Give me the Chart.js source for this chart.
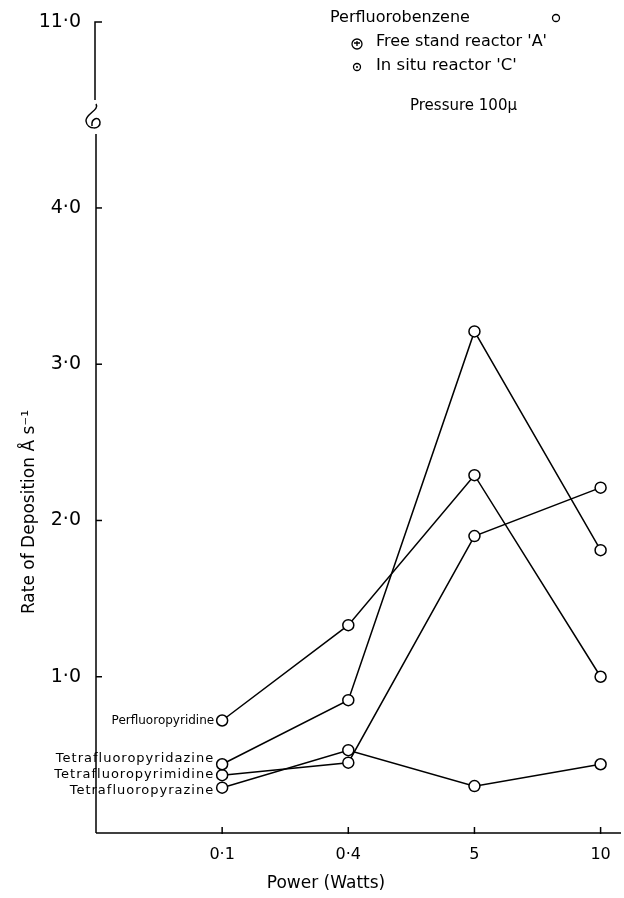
<!DOCTYPE html>
<html>
<head>
<meta charset="utf-8">
<script src="https://cdn.jsdelivr.net/npm/chart.js@4/dist/chart.umd.min.js"></script>
<style>
  body { margin: 0; background: #fff; }
  #wrap { width: 624px; height: 898px; }
</style>
</head>
<body>
<div id="wrap"><canvas id="c"></canvas></div>
<script>
const powerLabels = ['0·1', '0·4', '5', '10'];
const compounds = ['Perfluoropyridine', 'Tetrafluoropyridazine', 'Tetrafluoropyrimidine', 'Tetrafluoropyrazine'];
const pyridine = [0.72, 1.33, 2.29, 1.0];
const pyridazine = [0.44, 0.85, 3.21, 1.81];
const pyrimidine = [0.37, 0.45, 1.9, 2.21];
const pyrazine = [0.29, 0.53, 0.3, 0.44];
const yTicks = [1, 2, 3, 4];
const yTopLabel = '11·0';
const yTop = 5.19;
const legendLines = ['Perfluorobenzene', "Free stand reactor 'A'", "In situ reactor 'C'", 'Pressure 100μ'];

const FONT = '"DejaVu Sans", sans-serif';
const series = [pyridine, pyridazine, pyrimidine, pyrazine];
const labelShift = [0, -6, -1, 3];

const toPoints = vals => vals.map((v, i) => ({ x: i + 1, y: v }));

const decorations = {
  id: 'decorations',
  afterDraw(chart) {
    const ctx = chart.ctx;
    const xs = chart.scales.x, ys = chart.scales.y;
    const { left, top, bottom } = chart.chartArea;
    ctx.save();
    ctx.strokeStyle = '#000';
    ctx.fillStyle = '#000';
    ctx.lineWidth = 1.5;

    // y axis with break
    ctx.beginPath();
    ctx.moveTo(left + 6, top); ctx.lineTo(left - 1, top); ctx.lineTo(left - 1, top + 78);
    ctx.moveTo(left, top + 112); ctx.lineTo(left, bottom);
    ctx.stroke();
    ctx.beginPath();
    ctx.moveTo(left, top + 82);
    ctx.bezierCurveTo(left + 4, top + 88, left - 11, top + 92, left - 10, top + 99);
    ctx.bezierCurveTo(left - 9, top + 108, left + 5, top + 108, left + 4, top + 100);
    ctx.bezierCurveTo(left + 3, top + 94, left - 5, top + 96, left - 4, top + 104);
    ctx.stroke();
    yTicks.forEach(t => {
      const py = ys.getPixelForValue(t);
      ctx.beginPath(); ctx.moveTo(left, py); ctx.lineTo(left + 6, py); ctx.stroke();
    });

    // x axis
    ctx.beginPath(); ctx.moveTo(left, bottom); ctx.lineTo(621, bottom); ctx.stroke();
    powerLabels.forEach((p, i) => {
      const px = xs.getPixelForValue(i + 1);
      ctx.beginPath(); ctx.moveTo(px, bottom + 1); ctx.lineTo(px, bottom - 6); ctx.stroke();
    });

    // axis titles
    ctx.font = '17px ' + FONT;
    ctx.textAlign = 'center';
    ctx.textBaseline = 'middle';
    ctx.fillText('Power (Watts)', 326, 884);
    ctx.save();
    ctx.translate(30, 512);
    ctx.rotate(-Math.PI / 2);
    ctx.fillText('Rate of Deposition Å s⁻¹', 0, 0);
    ctx.restore();

    // compound labels at first point
    ctx.textAlign = 'right';
    compounds.forEach((name, i) => {
      const px = xs.getPixelForValue(1), py = ys.getPixelForValue(series[i][0]);
      if (i === 0) { ctx.font = '12px ' + FONT; ctx.letterSpacing = '0px'; }
      else { ctx.font = '13px ' + FONT; ctx.letterSpacing = '1px'; }
      ctx.fillText(name, px - 8, py + labelShift[i]);
    });
    ctx.letterSpacing = '0px';

    // legend block
    ctx.textAlign = 'left';
    ctx.font = '16px ' + FONT;
    ctx.fillText(legendLines[0], 330, 18);
    ctx.font = '16px ' + FONT;
    ctx.fillText(legendLines[1], 376, 42);
    ctx.font = '16.5px ' + FONT;
    ctx.fillText(legendLines[2], 376, 66);
    ctx.font = '15px ' + FONT;
    ctx.fillText(legendLines[3], 410, 106);
    ctx.lineWidth = 1.3;
    ctx.beginPath(); ctx.arc(556, 18, 3.5, 0, Math.PI * 2); ctx.stroke();
    ctx.beginPath(); ctx.arc(357, 44, 5, 0, Math.PI * 2); ctx.stroke();
    ctx.beginPath(); ctx.moveTo(354, 43); ctx.lineTo(360, 43); ctx.moveTo(357, 41); ctx.lineTo(357, 46); ctx.stroke();
    ctx.beginPath(); ctx.arc(357, 67, 3.5, 0, Math.PI * 2); ctx.stroke();
    ctx.beginPath(); ctx.arc(357, 67, 1, 0, Math.PI * 2); ctx.fill();
    ctx.restore();
  }
};

const config = {
  type: 'line',
  plugins: [decorations],
  data: {
    datasets: series.map((vals, i) => ({
      label: compounds[i],
      data: toPoints(vals),
      borderColor: '#000',
      borderWidth: 1.5,
      pointRadius: 5.5,
      pointBorderWidth: 1.5,
      pointBackgroundColor: '#fff',
      pointBorderColor: '#000',
      tension: 0,
      clip: false
    }))
  },
  options: {
    responsive: true,
    maintainAspectRatio: false,
    animation: false,
    devicePixelRatio: 1,
    layout: { padding: { top: 22, right: 3, left: 0, bottom: 0 } },
    plugins: { legend: { display: false }, tooltip: { enabled: false } },
    scales: {
      x: {
        type: 'linear',
        min: 0,
        max: 4.13,
        afterFit: s => { s.height = 65; },
        afterBuildTicks: s => { s.ticks = powerLabels.map((p, i) => ({ value: i + 1 })); },
        grid: { display: false },
        border: { display: false },
        ticks: {
          color: '#000',
          padding: 4,
          font: { family: FONT, size: 16 },
          callback: v => powerLabels[v - 1]
        }
      },
      y: {
        type: 'linear',
        min: 0,
        max: yTop,
        afterFit: s => { s.width = 96; },
        afterBuildTicks: s => { s.ticks = yTicks.concat([yTop]).map(v => ({ value: v })); },
        grid: { display: false },
        border: { display: false },
        ticks: {
          color: '#000',
          padding: 7,
          font: { family: FONT, size: 19 },
          callback: v => v === yTop ? yTopLabel : v.toFixed(1).replace('.', '·')
        }
      }
    }
  }
};

new Chart(document.getElementById('c').getContext('2d'), config);
</script>
</body>
</html>
